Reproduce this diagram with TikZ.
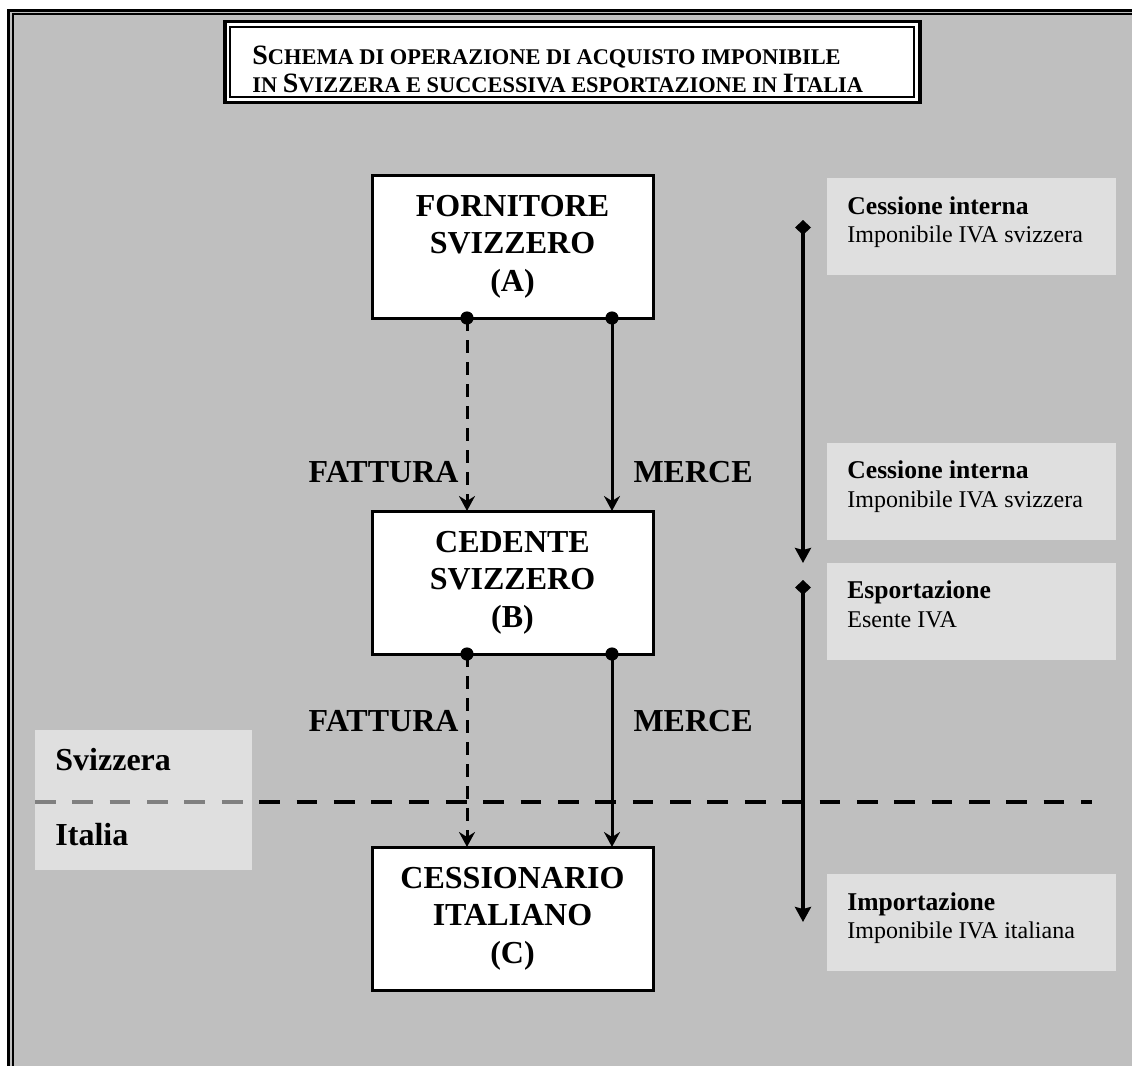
\documentclass[tikz,border=0pt]{standalone}
\usepackage{fontspec}
\setmainfont{Liberation Serif}
\usepackage{tikz}
\usetikzlibrary{arrows.meta,positioning}
\definecolor{Ground}{HTML}{BFBFBF}

\newcommand{\capinit}[1]{{\fontsize{14}{14}\selectfont #1}}

\begin{document}
\begin{tikzpicture}[
    x=0.5pt,y=-0.5pt,
    node distance=96.5pt,
    party/.style={draw,line width=1.5pt,fill=white,outer sep=0pt,
      minimum width=140.5pt,minimum height=71.5pt,align=center,
      font=\bfseries\fontsize{16}{18.75}\selectfont},
    titlebox/.style={draw,line width=1.75pt,fill=white,outer sep=0pt,
      minimum width=347.5pt,minimum height=40.4pt},
    titletext/.style={anchor=north west,align=left,inner sep=0pt,
      font=\bfseries\fontsize{11.2}{14}\selectfont},
    panel/.style={fill=white,fill opacity=0.5,outer sep=0pt,inner sep=0pt,
      minimum width=144.5pt,minimum height=48.5pt},
    sidetext/.style={anchor=north west,align=left,inner sep=0pt,
      font=\fontsize{12}{14.25}\selectfont},
    flowlabel/.style={inner sep=0pt,font=\bfseries\fontsize{16}{18}\selectfont},
    cname/.style={inner sep=0pt,anchor=base west,font=\bfseries\fontsize{16}{18}\selectfont},
    bill/.style={-{Stealth[length=7.5pt,width=8pt,inset=2.5pt]},line width=1.5pt,
      dash pattern=on 6.5pt off 4.5pt},
    goods/.style={-{Stealth[length=7.5pt,width=8pt,inset=2.5pt]},line width=1.5pt},
    phase/.style={{Diamond[length=7.5pt,width=8pt]}-{Stealth[length=7.5pt,width=8pt,inset=1pt]},
      line width=1.6pt},
    border/.style={line width=2.1pt,dash pattern=on 10.35pt off 8.33pt}
]
% page and double frame
\useasboundingbox (0,0) rectangle (1132,1066);
\clip (0,0) rectangle (1132,1066);
\fill[Ground] (7,9) rectangle (1132,1066);
\draw[line width=1.5pt] (8.5,1066) -- (8.5,10.4) -- (1132,10.4);
\draw[line width=1pt] (13,1066) -- (13,14.3) -- (1132,14.3);

% title
\node[titlebox] (title) at (572.3,62.1) {};
\draw[line width=1pt] ([shift={(5.5,5.1)}]title.north west) rectangle ([shift={(-5.5,-5.1)}]title.south east);
\node[titletext] (titletxt) at ([shift={(27.2,24.3)}]title.north west)
  {\capinit{S}CHEMA DI OPERAZIONE DI ACQUISTO IMPONIBILE\\
   IN \capinit{S}VIZZERA E SUCCESSIVA ESPORTAZIONE IN \capinit{I}TALIA};

% border line
\coordinate (b1) at (35,802);
\coordinate (b2) at (1092,802);
\draw[border] (b1) -- (b2);
\node[panel,minimum width=108.5pt,minimum height=70pt] (land) at (143.5,800) {};
\node[cname] (ch) at (55,770) {Svizzera};
\node[cname] (it) at (55,845) {Italia};

% parties
\node[party] (A) at (512.5,246.5) {FORNITORE\\SVIZZERO\\(A)};
\node[party,below=of A] (B) {CEDENTE\\SVIZZERO\\(B)};
\node[party,below=of B] (C) {CESSIONARIO\\ITALIANO\\(C)};

% flows
\fill ([shift={(-45.5,0)}]A.south) circle (3.3pt);
\fill ([shift={(99.5,0)}]A.south) circle (3.3pt);
\draw[bill] ([shift={(-45.5,0)}]A.south) -- node[flowlabel,left=3.5pt,pos=0.8] (fat1) {FATTURA} ([shift={(-45.5,0)}]B.north);
\draw[goods] ([shift={(99.5,0)}]A.south) -- node[flowlabel,right=10pt,pos=0.8] (mer1) {MERCE} ([shift={(99.5,0)}]B.north);
\fill ([shift={(-45.5,0)}]B.south) circle (3.3pt);
\fill ([shift={(99.5,0)}]B.south) circle (3.3pt);
\draw[bill] ([shift={(-45.5,0)}]B.south) -- node[flowlabel,left=3.5pt,pos=0.345] (fat2) {FATTURA} ([shift={(-45.5,0)}]C.north);
\draw[goods] ([shift={(99.5,0)}]B.south) -- node[flowlabel,right=10pt,pos=0.345] (mer2) {MERCE} ([shift={(99.5,0)}]C.north);

% phases
\coordinate (p1) at (803,220);
\coordinate (p2) at (803,563);
\coordinate (p3) at (803,580);
\coordinate (p4) at (803,922);
\draw[phase] (p1) -- (p2);
\draw[phase] (p3) -- (p4);

\node[panel] (s1) at (971.5,226.5) {};
\node[sidetext] (s1t) at ([shift={(20,18)}]s1.north west) {{\fontsize{12.8}{14}\selectfont\bfseries Cessione interna}\\Imponibile IVA svizzera};
\node[panel] (s2) at (971.5,491) {};
\node[sidetext] (s2t) at ([shift={(20,18)}]s2.north west) {{\fontsize{12.8}{14}\selectfont\bfseries Cessione interna}\\Imponibile IVA svizzera};
\node[panel,below=11.5pt of s2] (s3) {};
\node[sidetext] (s3t) at ([shift={(20,18)}]s3.north west) {{\fontsize{12.8}{14}\selectfont\bfseries Esportazione}\\Esente IVA};
\node[panel] (s4) at (971.5,922.5) {};
\node[sidetext] (s4t) at ([shift={(20,18)}]s4.north west) {{\fontsize{12.8}{14}\selectfont\bfseries Importazione}\\Imponibile IVA italiana};
\end{tikzpicture}
\end{document}
